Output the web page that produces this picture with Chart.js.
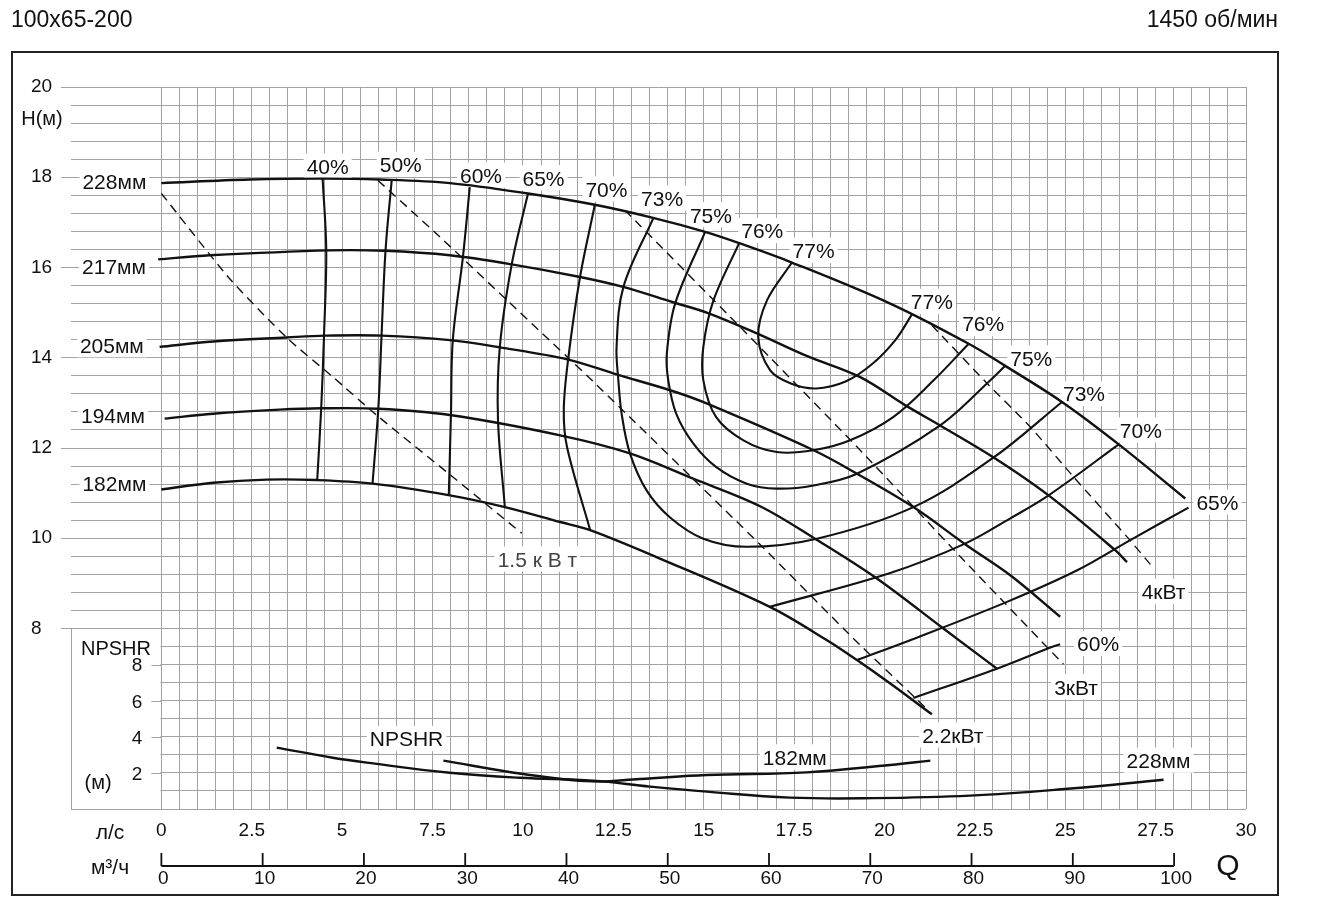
<!DOCTYPE html>
<html>
<head>
<meta charset="utf-8">
<title>100x65-200 1450 об/мин</title>
<script src="https://cdn.jsdelivr.net/npm/chart.js@4.4.1/dist/chart.umd.min.js"></script>
<style>
  html, body { margin: 0; padding: 0; background: #fff; }
  canvas { display: block; }
</style>
</head>
<body>
<canvas id="pump" width="1340" height="920"></canvas>
<script>
const FONT = '"Liberation Sans", Arial, sans-serif';
const INK = '#111';
const GRID = '#a2a2a2';

// axes
const Q_MIN = -2.5, Q_MAX = 30;               // л/с
const Q_TICKS = [0, 2.5, 5, 7.5, 10, 12.5, 15, 17.5, 20, 22.5, 25, 27.5, 30];
const M3H_TICKS = [0, 10, 20, 30, 40, 50, 60, 70, 80, 90, 100];
const M3H_PER_LS = 3.57;
const H_MIN = 4, H_MAX = 20;                   // м
const H_TICKS = [8, 10, 12, 14, 16, 18, 20];
const NPSH_MAX = 40;
const NPSH_TICKS = [2, 4, 6, 8];

// H-Q curves, [Q л/с, H м]
const HQ_228 = [[0,17.87],[2.44,17.95],[4.46,17.97],[6.04,17.95],[7.98,17.87],[10.14,17.64],[11.99,17.39],[13.60,17.10],[15.04,16.79],[15.98,16.54],[17.44,16.11],[20.16,15.20],[22.33,14.31],[23.34,13.82],[24.91,13.02],[26.48,12.08],[28.32,10.88]];
const HQ_217 = [[-0.09,16.18],[1.34,16.27],[4.66,16.38],[6.18,16.37],[7.98,16.27],[9.69,16.07],[11.58,15.79],[12.77,15.57],[14.15,15.23],[15.12,14.99],[16.47,14.54],[17.85,14.04],[19.33,13.57],[20.57,12.95],[21.54,12.50],[23.02,11.79],[24.54,10.95],[26.39,9.73],[26.71,9.47]];
const HQ_205 = [[-0.05,14.24],[1.43,14.36],[3.46,14.45],[4.52,14.49],[6.09,14.49],[7.98,14.39],[9.36,14.23],[11.25,13.96],[12.59,13.63],[14.07,13.28],[14.98,13.02],[18.04,11.95],[19.24,11.43],[20.80,10.69],[22.28,9.84],[23.48,9.18],[24.86,8.26]];
const HQ_194 = [[0.09,12.65],[1.43,12.76],[3.27,12.85],[4.43,12.88],[6.00,12.87],[7.98,12.73],[11.03,12.28],[12.96,11.88],[14.71,11.32],[16.56,10.71],[18.08,9.99],[19.79,9.11],[21.63,8.00],[23.11,7.11]];
const HQ_182 = [[0,11.08],[1.43,11.23],[2.91,11.30],[4.29,11.29],[5.84,11.21],[7.98,10.95],[9.50,10.69],[11.03,10.36],[11.86,10.18],[13.79,9.55],[16.83,8.48],[18.41,7.74],[19.24,7.30],[20.16,6.78],[21.31,6.10]];

// efficiency lines
const EFF_40 = [[4.46,17.97],[4.56,16.38],[4.50,14.54],[4.42,12.87],[4.31,11.29]];
const EFF_50 = [[6.37,17.93],[6.20,16.38],[6.09,14.50],[6.00,12.87],[5.84,11.21]];
const EFF_60 = [[8.53,17.78],[8.34,16.23],[8.06,14.39],[8.01,12.77],[7.95,10.97]];
const EFF_65 = [[10.14,17.64],[9.69,16.07],[9.36,14.23],[9.31,12.64],[9.50,10.69]];
const EFF_70 = [[11.99,17.39],[11.58,15.79],[11.25,13.96],[11.13,12.84],[11.22,12.02],[11.86,10.18]];
const EFF_73 = [[13.61,17.10],[12.78,15.57],[12.59,14.24],[12.64,13.50],[12.73,12.76],[12.96,11.88],[13.42,11.06],[14.07,10.46],[14.99,9.99],[16.19,9.81],[18.13,9.99],[20.80,10.69],[23.02,11.79],[24.91,13.02]];
const EFF_75 = [[15.04,16.79],[14.21,15.20],[13.98,14.09],[14.02,13.50],[14.24,12.76],[14.71,12.10],[15.34,11.58],[16.19,11.21],[17.02,11.10],[18.04,11.17],[19.24,11.43],[21.54,12.50],[22.93,13.50],[23.34,13.82]];
const EFF_76 = [[15.98,16.54],[15.27,15.27],[14.99,14.24],[14.99,13.50],[15.34,12.69],[16.10,12.17],[17.02,11.91],[18.04,11.95],[19.05,12.17],[20.25,12.69],[21.36,13.50],[22.33,14.31]];
const EFF_77 = [[17.44,16.11],[16.75,15.27],[16.51,14.46],[16.84,13.72],[17.41,13.43],[18.11,13.32],[18.94,13.48],[19.66,13.86],[20.30,14.39],[20.76,14.96]];
const EFF_70_R = [[16.83,8.48],[20.16,9.23],[22.23,9.88],[23.48,10.44],[24.54,10.95],[26.48,12.08]];
const EFF_65_R = [[19.24,7.30],[20.71,7.74],[23.39,8.59],[25.33,9.29],[26.80,9.96],[28.41,10.68]];
const EFF_60_R = [[20.80,6.46],[23.11,7.11],[24.59,7.58],[24.86,7.65]];

// power lines
const PWR_1_5 = [[0,17.64],[1.89,15.75],[3.50,14.42],[4.75,13.57],[5.95,12.73],[7.89,11.47],[9.97,10.11]];
const PWR_2_2 = [[5.99,17.93],[7.70,16.68],[9.46,15.35],[11.22,14.02],[11.91,13.50],[16.56,9.86],[19.14,7.78],[21.13,6.25]];
const PWR_3 = [[12.82,17.27],[16.01,14.68],[19.33,11.95],[22.10,9.59],[24.95,7.21]];
const PWR_4 = [[21.31,14.72],[22.84,13.43],[24.03,12.47],[25.23,11.36],[26.71,10.03],[27.45,9.33]];

// NPSHR, [Q л/с, NPSH м]
const NPSH_228 = [[3.19,3.40],[4.74,2.84],[5.68,2.57],[7.98,2.01],[9.92,1.73],[11.94,1.57],[13.52,1.24],[15.09,0.96],[17.39,0.63],[19.69,0.60],[22.37,0.74],[25.06,1.12],[27.72,1.62]];
const NPSH_182 = [[7.80,2.68],[10.01,1.94],[11.90,1.53],[13.24,1.66],[15.08,1.88],[17.85,2.03],[20.16,2.44],[21.27,2.68]];

const HQ_CURVES = [HQ_228, HQ_217, HQ_205, HQ_194, HQ_182];
const EFF_CURVES = [EFF_40, EFF_50, EFF_60, EFF_65, EFF_70, EFF_73, EFF_75, EFF_76, EFF_77, EFF_70_R, EFF_65_R, EFF_60_R];
const PWR_CURVES = [PWR_1_5, PWR_2_2, PWR_3, PWR_4];
const NPSH_CURVES = [NPSH_228, NPSH_182];

// curve captions: text, Q, value, axis
const CURVE_LABELS = [
    ['228мм', -1.30, 17.91, 'y'], ['217мм', -1.31, 16.03, 'y'], ['205мм', -1.37, 14.28, 'y'],
    ['194мм', -1.34, 12.73, 'y'], ['182мм', -1.30, 11.22, 'y'],
    ['40%', 4.60, 18.24, 'y'], ['50%', 6.62, 18.28, 'y'], ['60%', 8.84, 18.04, 'y'],
    ['65%', 10.57, 17.98, 'y'], ['70%', 12.31, 17.73, 'y'], ['73%', 13.85, 17.53, 'y'],
    ['75%', 15.20, 17.16, 'y'], ['76%', 16.62, 16.81, 'y'], ['77%', 18.04, 16.37, 'y'],
    ['77%', 21.31, 15.24, 'y'], ['76%', 22.73, 14.75, 'y'], ['75%', 24.06, 13.99, 'y'],
    ['73%', 25.52, 13.20, 'y'], ['70%', 27.09, 12.39, 'y'], ['65%', 29.21, 10.79, 'y'],
    ['60%', 25.91, 7.66, 'y'],
    ['4кВт', 27.72, 8.81, 'y'], ['3кВт', 25.30, 6.70, 'y'], ['2.2кВт', 21.89, 5.63, 'y'],
    ['1.5 к В т', 10.40, 9.53, 'y'],
    ['NPSHR', 6.78, 3.88, 'yN'], ['182мм', 17.52, 2.86, 'yN'], ['228мм', 27.58, 2.68, 'yN'],
];

const toXY = pts => pts.map(([q, v]) => ({ x: q, y: v }));

function line(pts, opts) {
    return Object.assign({
        data: toXY(pts),
        borderColor: INK,
        borderWidth: 2,
        pointRadius: 0,
        tension: 0.35,
        fill: false,
        yAxisID: 'y',
    }, opts);
}

const datasets = [
    ...HQ_CURVES.map(c => line(c, { borderWidth: 2.4 })),
    ...EFF_CURVES.map(c => line(c, { borderWidth: 2.1 })),
    ...PWR_CURVES.map(c => line(c, { borderWidth: 1.4, borderDash: [9, 6], tension: 0.2 })),
    ...NPSH_CURVES.map(c => line(c, { borderWidth: 2.4, yAxisID: 'yN', tension: 0.4 })),
];

function textAt(ctx, text, px, py, size, opts = {}) {
    ctx.font = `${size}px ${FONT}`;
    ctx.textAlign = opts.align || 'center';
    ctx.textBaseline = 'alphabetic';
    ctx.fillStyle = opts.color || INK;
    ctx.fillText(text, px, py + size * 0.358);
}

const pumpDecor = {
    id: 'pumpDecor',
    beforeDatasetsDraw(chart) {
        const { ctx, chartArea: a, scales: { x, y, yN } } = chart;
        const x0 = x.getPixelForValue(0);
        const y8 = y.getPixelForValue(8);
        ctx.save();
        // the NPSH scale strip left of Q = 0 has no grid
        ctx.fillStyle = '#fff';
        ctx.fillRect(a.left - 1, y8 + 1, x0 - a.left, a.bottom - y8 - 2);
        ctx.strokeStyle = GRID;
        ctx.lineWidth = 1;
        ctx.beginPath();
        const lx = Math.round(a.left) + 0.5;
        ctx.moveTo(lx, y8);
        ctx.lineTo(lx, a.bottom);
        NPSH_TICKS.forEach(v => {
            const py = Math.round(yN.getPixelForValue(v)) + 0.5;
            ctx.moveTo(x0 - 10, py);
            ctx.lineTo(x0, py);
        });
        ctx.stroke();
        // white boxes behind captions
        ctx.fillStyle = '#fff';
        CURVE_LABELS.forEach(([t, q, v, ax]) => {
            const size = 21;
            ctx.font = `${size}px ${FONT}`;
            const w = ctx.measureText(t).width;
            const px = x.getPixelForValue(q);
            const py = chart.scales[ax].getPixelForValue(v);
            ctx.fillRect(px - w / 2 - 3, py - size * 0.62, w + 6, size * 1.2);
        });
        ctx.restore();
    },
    afterDraw(chart) {
        const { ctx, chartArea: a, scales: { x, y, yN } } = chart;
        const x0 = x.getPixelForValue(0);
        ctx.save();

        CURVE_LABELS.forEach(([t, q, v, ax]) => {
            const muted = t.startsWith('1.5');
            textAt(ctx, t, x.getPixelForValue(q), chart.scales[ax].getPixelForValue(v), 21,
                { color: muted ? '#444' : INK });
        });

        // axis captions
        textAt(ctx, 'H(м)', 42, y.getPixelForValue(19.31), 20);
        textAt(ctx, 'NPSHR', 116, yN.getPixelForValue(8.94), 20);
        textAt(ctx, '(м)', 98, yN.getPixelForValue(1.5), 20);
        NPSH_TICKS.forEach(v => textAt(ctx, String(v), x0 - 19, yN.getPixelForValue(v), 19, { align: 'right' }));
        textAt(ctx, 'л/с', 110, a.bottom + 22, 21);
        textAt(ctx, 'м³/ч', 110, a.bottom + 57, 21);
        textAt(ctx, 'Q', x.getPixelForValue(29.5), a.bottom + 55, 30);

        // m3/h scale
        const yl = Math.round(a.bottom + 57);
        const mx = v => x.getPixelForValue(v / M3H_PER_LS);
        ctx.strokeStyle = INK;
        ctx.lineWidth = 1.8;
        ctx.beginPath();
        ctx.moveTo(mx(M3H_TICKS[0]), yl);
        ctx.lineTo(mx(M3H_TICKS[M3H_TICKS.length - 1]), yl);
        M3H_TICKS.forEach(v => {
            ctx.moveTo(mx(v), yl);
            ctx.lineTo(mx(v), yl - 13);
        });
        ctx.stroke();
        M3H_TICKS.forEach(v => textAt(ctx, String(v), mx(v) + 2, yl + 11, 19));

        // titles and frame
        ctx.font = `23px ${FONT}`;
        ctx.fillStyle = INK;
        ctx.textBaseline = 'alphabetic';
        ctx.textAlign = 'left';
        ctx.fillText('100x65-200', 11, 27);
        ctx.textAlign = 'right';
        ctx.fillText('1450 об/мин', 1278, 27);
        ctx.strokeStyle = '#222';
        ctx.lineWidth = 2;
        ctx.strokeRect(12, 52, 1266, 843);
        ctx.restore();
    }
};

new Chart(document.getElementById('pump'), {
    type: 'line',
    data: { datasets },
    options: {
        responsive: false,
        animation: false,
        events: [],
        layout: { padding: { left: 31, right: 94, top: 87, bottom: 71 } },
        plugins: { legend: { display: false }, tooltip: { enabled: false } },
        scales: {
            x: {
                type: 'linear',
                min: Q_MIN,
                max: Q_MAX,
                afterBuildTicks(scale) {
                    const ticks = [];
                    for (let i = 0; i <= (Q_MAX - Q_MIN) * 2; i++) ticks.push({ value: Q_MIN + i * 0.5 });
                    scale.ticks = ticks;
                },
                afterFit(scale) { scale.height = 40; },
                grid: {
                    color: c => (c.tick && c.tick.value < 0 ? 'rgba(0,0,0,0)' : GRID),
                    lineWidth: 1,
                    drawTicks: false,
                },
                border: { display: false },
                ticks: {
                    autoSkip: false,
                    maxRotation: 0,
                    padding: 10,
                    color: INK,
                    font: { family: FONT, size: 19 },
                    callback: v => (Q_TICKS.includes(v) ? String(v) : ''),
                },
            },
            y: {
                type: 'linear',
                position: 'left',
                min: H_MIN,
                max: H_MAX,
                afterBuildTicks(scale) {
                    const ticks = [];
                    for (let i = 0; i <= (H_MAX - H_MIN) / 0.4; i++) {
                        ticks.push({ value: Math.round((H_MIN + i * 0.4) * 10) / 10 });
                    }
                    scale.ticks = ticks;
                },
                afterFit(scale) { scale.width = 40; },
                grid: {
                    color: GRID,
                    lineWidth: 1,
                    tickLength: 10,
                    tickColor: c => (c.tick && H_TICKS.includes(c.tick.value) ? GRID : 'rgba(0,0,0,0)'),
                },
                border: { display: false },
                ticks: {
                    autoSkip: false,
                    crossAlign: 'far',
                    color: INK,
                    font: { family: FONT, size: 19 },
                    callback: v => (H_TICKS.includes(v) ? String(v) : ''),
                },
            },
            yN: {
                type: 'linear',
                position: 'right',
                display: false,
                min: 0,
                max: NPSH_MAX,
            },
        },
    },
    plugins: [pumpDecor],
});
</script>
</body>
</html>
